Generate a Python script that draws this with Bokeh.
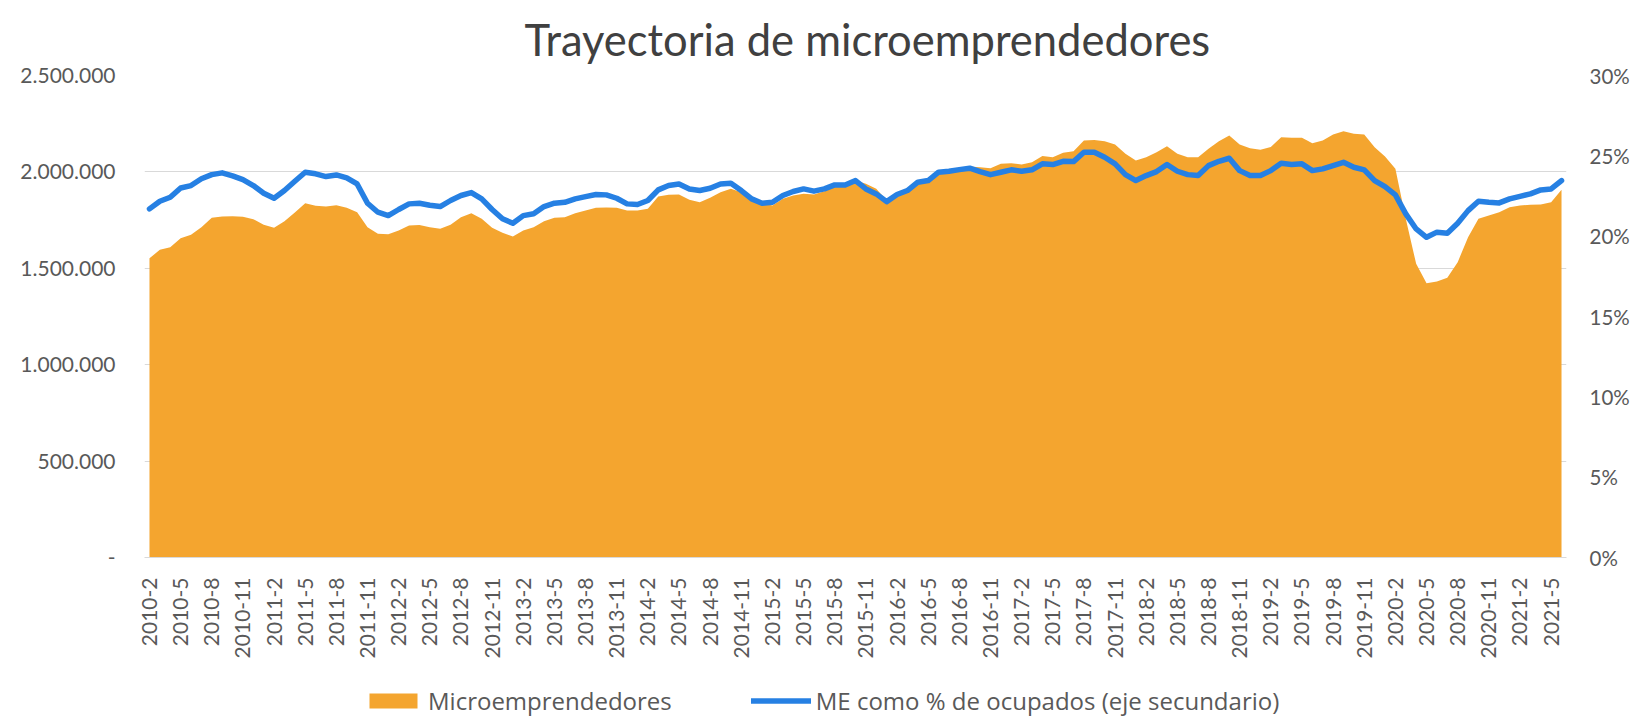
import math
from bokeh.plotting import figure
from bokeh.layouts import column
from bokeh.models import (Range1d, LinearAxis, FixedTicker, Legend, LegendItem,
                          ColumnDataSource)
from bokeh.embed import file_html
from bokeh.resources import INLINE

# ---------------- data ----------------
months = [f"{2010 + (m - 1) // 12}-{(m - 1) % 12 + 1}" for m in range(2, 2 + 137)]

microemprendedores = [
    1552000, 1596000, 1609000, 1656000, 1674000, 1713000, 1762000, 1769000, 1770000, 1767000,
    1755000, 1726000, 1710000, 1744000, 1789000, 1838000, 1824000, 1821000, 1827000, 1814000,
    1791000, 1713000, 1679000, 1677000, 1696000, 1722000, 1724000, 1713000, 1705000, 1726000,
    1765000, 1786000, 1757000, 1710000, 1684000, 1665000, 1696000, 1713000, 1744000, 1762000,
    1765000, 1786000, 1800000, 1814000, 1815000, 1814000, 1800000, 1800000, 1809000, 1872000,
    1881000, 1883000, 1855000, 1843000, 1866000, 1895000, 1912000, 1895000, 1861000, 1838000,
    1826000, 1861000, 1878000, 1887000, 1883000, 1900000, 1929000, 1935000, 1955000, 1938000,
    1912000, 1852000, 1887000, 1907000, 1947000, 1964000, 2004000, 2011000, 2019000, 2028000,
    2024000, 2019000, 2042000, 2045000, 2038000, 2050000, 2082000, 2076000, 2099000, 2107000,
    2163000, 2166000, 2159000, 2142000, 2094000, 2059000, 2076000, 2102000, 2133000, 2094000,
    2076000, 2076000, 2120000, 2159000, 2189000, 2142000, 2123000, 2115000, 2129000, 2180000,
    2177000, 2177000, 2149000, 2163000, 2194000, 2211000, 2198000, 2194000, 2128000, 2080000,
    2016000, 1757000, 1523000, 1423000, 1432000, 1451000, 1532000, 1661000, 1757000, 1774000,
    1791000, 1817000, 1826000, 1829000, 1831000, 1843000, 1907000,
]

pct_ocupados = [
    21.70, 22.17, 22.42, 23.00, 23.15, 23.57, 23.83, 23.94, 23.75, 23.52,
    23.15, 22.67, 22.36, 22.84, 23.42, 23.98, 23.88, 23.71, 23.81, 23.63,
    23.25, 22.05, 21.49, 21.28, 21.66, 22.01, 22.05, 21.92, 21.84, 22.22,
    22.53, 22.71, 22.32, 21.66, 21.08, 20.80, 21.28, 21.39, 21.84, 22.05,
    22.11, 22.32, 22.46, 22.59, 22.57, 22.36, 22.01, 21.97, 22.22, 22.88,
    23.15, 23.25, 22.94, 22.84, 22.98, 23.25, 23.29, 22.84, 22.32, 22.05,
    22.11, 22.53, 22.78, 22.94, 22.80, 22.94, 23.19, 23.19, 23.46, 22.94,
    22.63, 22.15, 22.59, 22.84, 23.36, 23.46, 23.98, 24.04, 24.14, 24.23,
    24.02, 23.83, 23.98, 24.13, 24.04, 24.13, 24.50, 24.46, 24.66, 24.64,
    25.22, 25.22, 24.91, 24.50, 23.83, 23.46, 23.77, 24.02, 24.46, 24.04,
    23.83, 23.77, 24.39, 24.66, 24.85, 24.08, 23.77, 23.77, 24.08, 24.54,
    24.46, 24.50, 24.08, 24.19, 24.39, 24.60, 24.29, 24.13, 23.46, 23.09,
    22.57, 21.39, 20.45, 19.93, 20.25, 20.18, 20.80, 21.59, 22.17, 22.11,
    22.07, 22.32, 22.48, 22.63, 22.88, 22.94, 23.46,
]

y_ticks = [0, 500000, 1000000, 1500000, 2000000, 2500000]
y_tick_labels = ["-", "500.000", "1.000.000", "1.500.000", "2.000.000", "2.500.000"]
pct_ticks = [0, 5, 10, 15, 20, 25, 30]
pct_tick_labels = ["0%", "5%", "10%", "15%", "20%", "25%", "30%"]
x_tick_step = 3

title_text = "Trayectoria de microemprendedores"
legend_labels = ["Microemprendedores", "ME como % de ocupados (eje secundario)"]

# ---------------- styles ----------------
ORANGE = "#F4A52F"
BLUE = "#2680E3"
GRID = "#D9D9D9"
TEXT = "#595959"
FONT = "Lato"
W = 1635
H_MAIN = 672
H_LEG = 45

idx = list(range(len(months)))
src = ColumnDataSource(dict(x=idx, micro=microemprendedores, pct=pct_ocupados))
x_rng = Range1d(-0.48, len(months) - 1 + 0.48)

p = figure(width=W, height=H_MAIN, output_backend="svg", toolbar_location=None,
           x_range=x_rng, y_range=Range1d(0, 2500000),
           min_border_left=144, min_border_right=69,
           min_border_top=75, min_border_bottom=H_MAIN - 557)
p.extra_y_ranges = {"pct": Range1d(0, 30)}

area = p.varea(x="x", y1=0, y2="micro", source=src, fill_color=ORANGE, fill_alpha=1.0)
line = p.line(x="x", y="pct", source=src, y_range_name="pct", line_color=BLUE,
              line_width=5.5, line_join="round", line_cap="round")

# title
p.title.text = title_text
p.title.text_font = FONT
p.title.text_font_size = "43.5px"
p.title.text_font_style = "normal"
p.title.text_color = "#404040"
p.title.align = "left"
p.title.offset = 380
p.title.standoff = 21
p.title.text_line_height = 0.8

# x axis
xt = [i for i in idx if i % x_tick_step == 0]
p.xaxis.ticker = FixedTicker(ticks=xt)
p.xaxis.major_label_overrides = {i: months[i] for i in xt}
p.xaxis.major_label_orientation = math.pi / 2
p.xaxis.axis_line_color = GRID
p.xaxis.major_tick_line_color = None
p.xaxis.major_tick_out = 0
p.xaxis.major_tick_in = 0
p.xaxis.minor_tick_line_color = None
p.xaxis.major_label_text_font = FONT
p.xaxis.major_label_text_font_size = "21px"
p.xaxis.major_label_text_color = TEXT
p.xaxis.major_label_standoff = 20

# left y axis
p.yaxis.ticker = FixedTicker(ticks=y_ticks)
p.yaxis.major_label_overrides = {t: l for t, l in zip(y_ticks, y_tick_labels)}
p.yaxis.axis_line_color = None
p.yaxis.major_tick_line_color = None
p.yaxis.major_tick_out = 0
p.yaxis.major_tick_in = 0
p.yaxis.minor_tick_line_color = None
p.yaxis.major_label_text_font = FONT
p.yaxis.major_label_text_font_size = "21px"
p.yaxis.major_label_text_color = TEXT
p.yaxis.major_label_standoff = 29

# right y axis
ry = LinearAxis(y_range_name="pct", ticker=FixedTicker(ticks=pct_ticks))
ry.major_label_overrides = {t: l for t, l in zip(pct_ticks, pct_tick_labels)}
ry.axis_line_color = None
ry.major_tick_line_color = None
ry.major_tick_out = 0
ry.major_tick_in = 0
ry.minor_tick_line_color = None
ry.major_label_text_font = FONT
ry.major_label_text_font_size = "20.5px"
ry.major_label_text_color = TEXT
ry.major_label_standoff = 23
p.add_layout(ry, "right")

p.xgrid.grid_line_color = None
p.ygrid.grid_line_color = GRID
p.ygrid.ticker = FixedTicker(ticks=y_ticks)
p.outline_line_color = None

# ---------------- legend strip (same series, drawn out of its visible range) ----------------
lg = figure(width=W, height=H_LEG, output_backend="svg", toolbar_location=None,
            x_range=x_rng, y_range=Range1d(-2, -1),
            x_axis_type=None, y_axis_type=None, min_border=0)
lg.grid.visible = False
lg.outline_line_color = None
leg_area = lg.varea(x="x", y1=0, y2="micro", source=src, fill_color=ORANGE, fill_alpha=1.0)
leg_line = lg.line(x="x", y="pct", source=src, line_color=BLUE, line_width=5.5, line_cap="round")

legend = Legend(items=[LegendItem(label=legend_labels[0], renderers=[leg_area]),
                       LegendItem(label=legend_labels[1], renderers=[leg_line])],
                orientation="horizontal", location=(219, 0))
legend.label_text_font = "Open Sans"
legend.label_text_font_size = "24px"
legend.label_text_color = TEXT
legend.glyph_width = 60
legend.glyph_height = 19
legend.label_standoff = 5
legend.spacing = 79
legend.padding = 0
legend.margin = 0
legend.border_line_color = None
legend.background_fill_alpha = 0
lg.add_layout(legend)

layout = column(p, lg, spacing=0)
open("out.html", "w").write(file_html(layout, INLINE))
